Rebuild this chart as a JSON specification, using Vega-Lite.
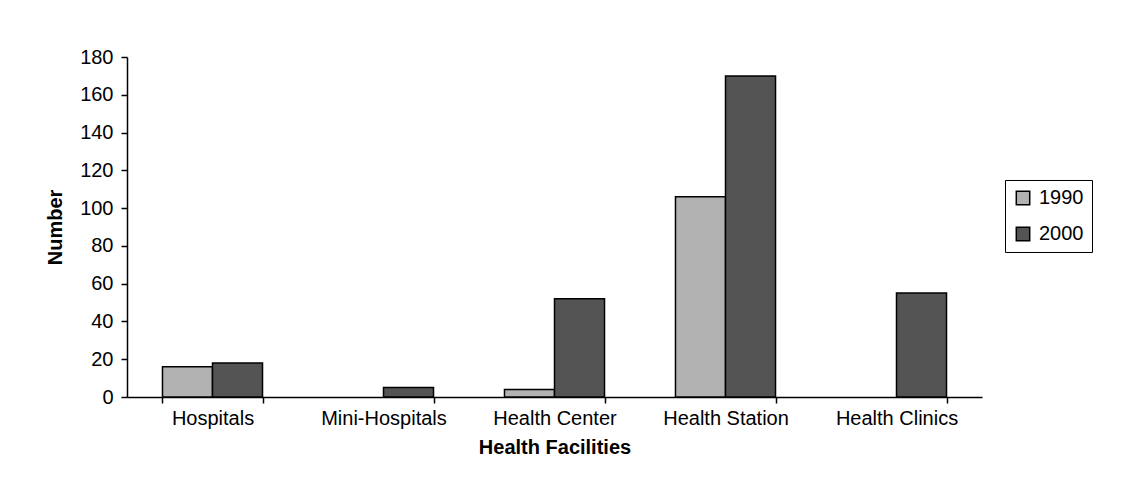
{
  "$schema": "https://vega.github.io/schema/vega-lite/v6.json",
  "width": 855,
  "height": 340,
  "autosize": {"type": "none"},
  "padding": {"left": 127, "top": 57, "right": 139, "bottom": 96},
  "background": "white",
  "data": {
    "values": [
      {"facility": "Hospitals", "year": "1990", "number": 16},
      {"facility": "Hospitals", "year": "2000", "number": 18},
      {"facility": "Mini-Hospitals", "year": "2000", "number": 5},
      {"facility": "Health Center", "year": "1990", "number": 4},
      {"facility": "Health Center", "year": "2000", "number": 52},
      {"facility": "Health Station", "year": "1990", "number": 106},
      {"facility": "Health Station", "year": "2000", "number": 170},
      {"facility": "Health Clinics", "year": "2000", "number": 55}
    ]
  },
  "mark": {"type": "bar", "stroke": "black", "strokeWidth": 1.5},
  "encoding": {
    "x": {
      "field": "facility",
      "type": "nominal",
      "sort": ["Hospitals", "Mini-Hospitals", "Health Center", "Health Station", "Health Clinics"],
      "scale": {"paddingInner": 0.415, "paddingOuter": 0.2075},
      "axis": {
        "title": "Health Facilities",
        "labelAngle": 0,
        "tickBand": "extent",
        "tickSize": 6,
        "labelPadding": 5,
        "titlePadding": 9
      }
    },
    "xOffset": {"field": "year", "type": "nominal", "scale": {"domain": ["1990", "2000"]}},
    "y": {
      "field": "number",
      "type": "quantitative",
      "scale": {"domain": [0, 180], "nice": false},
      "axis": {
        "title": "Number",
        "values": [0, 20, 40, 60, 80, 100, 120, 140, 160, 180],
        "grid": false,
        "tickSize": 6,
        "labelPadding": 8,
        "titlePadding": 14
      }
    },
    "fill": {
      "field": "year",
      "type": "nominal",
      "scale": {"domain": ["1990", "2000"], "range": ["#b2b2b2", "#545454"]},
      "legend": {
        "title": null,
        "orient": "none",
        "legendX": 878,
        "legendY": 123,
        "symbolType": "square",
        "symbolSize": 180,
        "symbolStrokeColor": "black",
        "symbolStrokeWidth": 1.5,
        "labelFontSize": 20,
        "labelFont": "Liberation Sans",
        "labelColor": "black",
        "labelOffset": 6,
        "rowPadding": 16,
        "padding": 8,
        "strokeColor": "black",
        "fillColor": "white"
      }
    }
  },
  "config": {
    "view": {"stroke": null},
    "axis": {
      "labelFont": "Liberation Sans",
      "labelFontSize": 20,
      "labelColor": "black",
      "titleFont": "Liberation Sans",
      "titleFontSize": 20,
      "titleFontWeight": "bold",
      "titleColor": "black",
      "domainColor": "black",
      "domainWidth": 1.5,
      "tickColor": "black",
      "tickWidth": 1.5
    }
  }
}
